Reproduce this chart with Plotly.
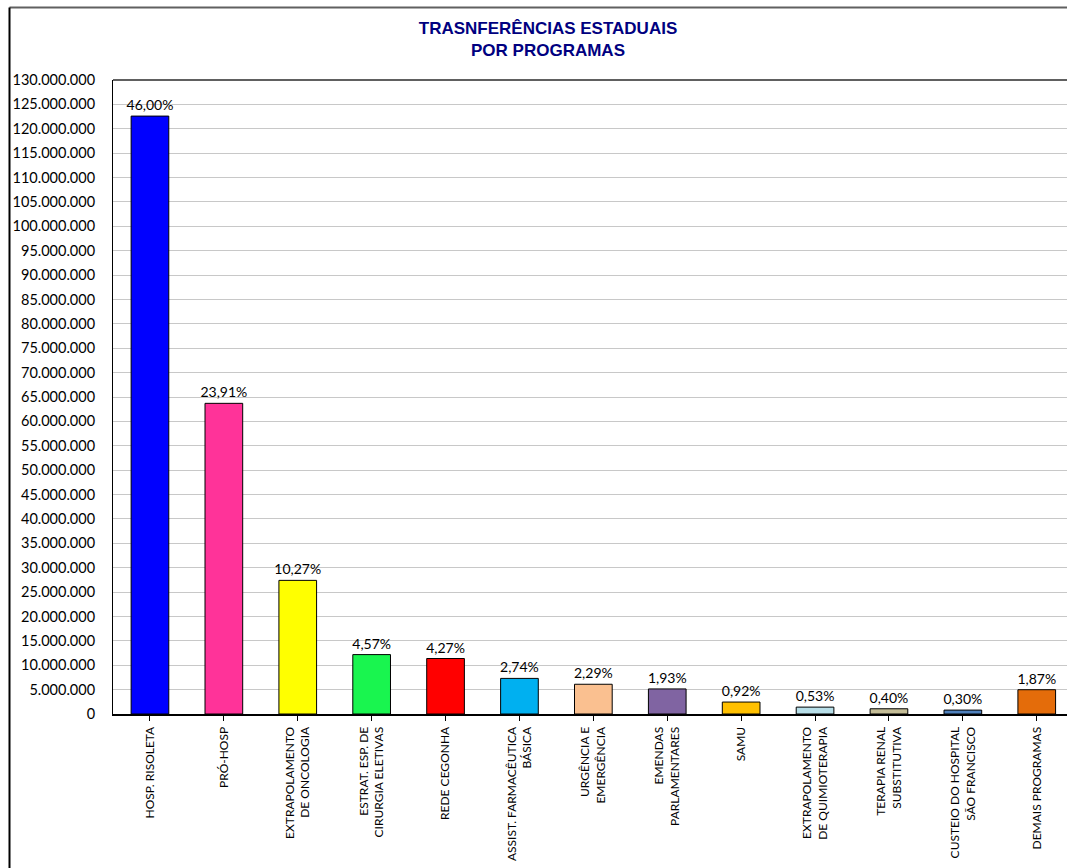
import plotly.graph_objects as go

categories = [
    "HOSP. RISOLETA", "PRÓ-HOSP", "EXTRAPOLAMENTO<br>DE ONCOLOGIA",
    "ESTRAT. ESP. DE<br>CIRURGIA ELETIVAS", "REDE CEGONHA",
    "ASSIST. FARMACÊUTICA<br>BÁSICA", "URGÊNCIA E<br>EMERGÊNCIA",
    "EMENDAS<br>PARLAMENTARES", "SAMU", "EXTRAPOLAMENTO<br>DE QUIMIOTERAPIA",
    "TERAPIA RENAL<br>SUBSTITUTIVA", "CUSTEIO DO HOSPITAL<br>SÃO FRANCISCO",
    "DEMAIS PROGRAMAS",
]
values = [122600000, 63700000, 27400000, 12180000, 11380000, 7300000, 6100000,
          5140000, 2450000, 1410000, 1070000, 800000, 4980000]
pct_labels = ["46,00%", "23,91%", "10,27%", "4,57%", "4,27%", "2,74%", "2,29%",
              "1,93%", "0,92%", "0,53%", "0,40%", "0,30%", "1,87%"]
colors = ["#0000FF", "#FF3399", "#FFFF00", "#19F54F", "#FF0000", "#00B0F0",
          "#FAC090", "#8064A2", "#FFC000", "#B7DEE8", "#C4BD97", "#4F81BD",
          "#E46C0A"]
tick_vals = list(range(0, 130000001, 5000000))
tick_text = [f"{v:,}".replace(",", ".") for v in tick_vals]

x_idx = list(range(len(categories)))

fig = go.Figure(go.Bar(
    x=x_idx, y=values, width=0.51,
    marker=dict(color=colors, line=dict(color="black", width=1)),
    text=pct_labels, textposition="outside", cliponaxis=False,
    constraintext="none",
    textfont=dict(family="Lato, Carlito, sans-serif", size=14, color="#000000"),
    hoverinfo="skip",
))

W, H = 1067, 868
L, R, T, B = 113, 0, 80, 154
pw, ph = W - L - R, H - T - B

def px_x(p):
    return (p - L) / pw

def px_y(p):
    return (H - B - p) / ph

fig.update_layout(
    width=W, height=H,
    margin=dict(l=L, r=R, t=T, b=B, pad=0),
    paper_bgcolor="white", plot_bgcolor="white",
    showlegend=False,
    bargap=0.49,
    title=dict(
        text="TRASNFERÊNCIAS ESTADUAIS<br>POR PROGRAMAS",
        x=(548) / W, xanchor="center", y=1 - 34 / H, yanchor="top",
        font=dict(family="Liberation Sans Narrow, Arial Narrow, Liberation Sans, Arial",
                  size=17, color="#000080", weight="bold"),
    ),
    xaxis=dict(
        tickmode="array", tickvals=x_idx, ticktext=categories,
        tickangle=-90, tickson="boundaries", ticks="outside", ticklen=5,
        tickcolor="#000000", tickwidth=1,
        showline=True, linecolor="#000000", linewidth=2,
        showgrid=False, zeroline=False,
        range=[-0.5, -0.5 + (W - L) / 73.9],
        tickfont=dict(family="Lato, Carlito, sans-serif", size=12, color="#000000"),
        ticklabelstandoff=1,
    ),
    yaxis=dict(
        range=[0, 130000000], tickmode="array", tickvals=tick_vals, ticktext=tick_text,
        showgrid=True, gridcolor="#C8C8C8", gridwidth=1,
        showline=True, linecolor="#000000", linewidth=1,
        zeroline=False, ticks="",
        tickfont=dict(family="Lato, Carlito, sans-serif", size=14.5, color="#000000"),
        ticklabelstandoff=14,
    ),
    shapes=[
        dict(type="line", xref="paper", yref="paper", x0=0, x1=1.01, y0=1, y1=1,
             line=dict(color="#606060", width=2)),
        dict(type="line", xref="paper", yref="paper", x0=px_x(9.5), x1=1.01,
             y0=px_y(7.5), y1=px_y(7.5), line=dict(color="#606060", width=2)),
        dict(type="line", xref="paper", yref="paper", x0=px_x(9.5), x1=px_x(9.5),
             y0=px_y(7.5), y1=px_y(870), line=dict(color="#000000", width=2)),
    ],
)

fig.write_html(
    "out.html",
    config={"displayModeBar": False},
    post_script="document.body.style.margin='0';document.body.style.overflow='hidden';",
)
